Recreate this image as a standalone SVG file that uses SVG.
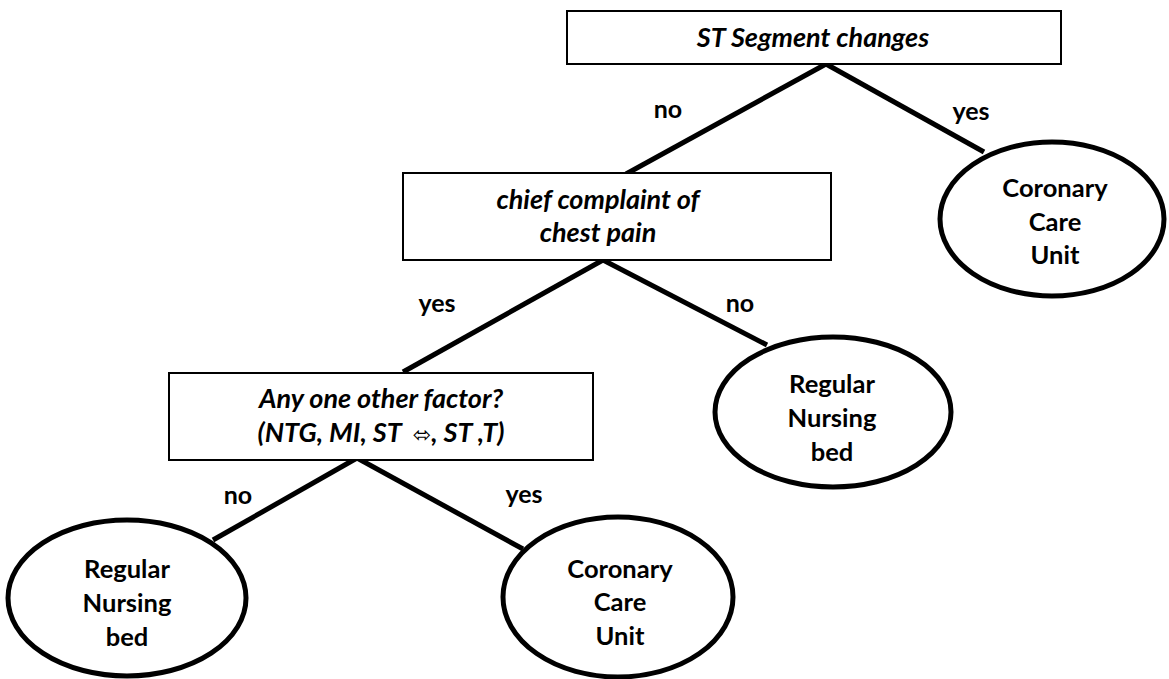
<svg xmlns="http://www.w3.org/2000/svg" width="1169" height="679" viewBox="0 0 1169 679">
  <style>
    .box { fill: #fff; stroke: #000; stroke-width: 2; }
    .leaf { fill: #fff; stroke: #000; stroke-width: 5; }
    .edge { stroke: #000; stroke-width: 5; fill: none; stroke-linecap: butt; }
    .q { font-family: Lato, "Open Sans", sans-serif; font-weight: bold; font-style: italic; font-size: 27px; fill: #000; text-anchor: middle; }
    .t { font-family: Lato, "Open Sans", sans-serif; font-weight: bold; font-size: 25.5px; fill: #000; text-anchor: middle; }
    .lbl { font-family: Lato, "Open Sans", sans-serif; font-weight: bold; font-size: 25px; fill: #000; text-anchor: middle; }
    .sym { font-family: "DejaVu Sans", sans-serif; font-style: normal; font-weight: normal; font-size: 22px; }
  </style>
  <rect width="1169" height="679" fill="#fff"/>

  <!-- connectors -->
  <g id="connectors">
    <line class="edge" x1="826" y1="64" x2="626" y2="174"/>
    <line class="edge" x1="826" y1="64" x2="984" y2="152"/>
    <line class="edge" x1="603" y1="260" x2="403" y2="372"/>
    <line class="edge" x1="603" y1="260" x2="767" y2="345"/>
    <line class="edge" x1="357" y1="458" x2="213" y2="540"/>
    <line class="edge" x1="357" y1="458" x2="523" y2="549"/>
    <text class="lbl" x="668" y="118">no</text>
    <text class="lbl" x="971" y="120">yes</text>
    <text class="lbl" x="437" y="312">yes</text>
    <text class="lbl" x="740" y="312">no</text>
    <text class="lbl" x="238" y="504">no</text>
    <text class="lbl" x="524" y="503">yes</text>
  </g>

  <g id="q-st-segment">
    <rect class="box" x="567" y="11" width="494" height="53"/>
    <text class="q" x="813" y="47">ST Segment changes</text>
  </g>

  <g id="q-chest-pain">
    <rect class="box" x="403" y="173" width="428" height="87"/>
    <text class="q" x="598" y="209">chief complaint of</text>
    <text class="q" x="598" y="242">chest pain</text>
  </g>

  <g id="q-other-factor">
    <rect class="box" x="169" y="373" width="424" height="87"/>
    <text class="q" x="381" y="408">Any one other factor?</text>
    <text class="q" x="381" y="442">(NTG, MI, ST&#160;&#160;<tspan class="sym">⬄</tspan>, ST ,T)</text>
  </g>

  <g id="leaf-ccu-top">
    <ellipse class="leaf" cx="1052" cy="219" rx="112" ry="77"/>
    <text class="t" x="1055" y="197">Coronary</text>
    <text class="t" x="1055" y="231">Care</text>
    <text class="t" x="1055" y="264">Unit</text>
  </g>

  <g id="leaf-rnb-mid">
    <ellipse class="leaf" cx="833" cy="412" rx="118" ry="75"/>
    <text class="t" x="832" y="393">Regular</text>
    <text class="t" x="832" y="427">Nursing</text>
    <text class="t" x="832" y="461">bed</text>
  </g>

  <g id="leaf-rnb-bottom">
    <ellipse class="leaf" cx="127" cy="598" rx="119" ry="78"/>
    <text class="t" x="127" y="578">Regular</text>
    <text class="t" x="127" y="612">Nursing</text>
    <text class="t" x="127" y="646">bed</text>
  </g>

  <g id="leaf-ccu-bottom">
    <ellipse class="leaf" cx="618" cy="597" rx="115" ry="80"/>
    <text class="t" x="620" y="578">Coronary</text>
    <text class="t" x="620" y="611">Care</text>
    <text class="t" x="620" y="645">Unit</text>
  </g>
</svg>
